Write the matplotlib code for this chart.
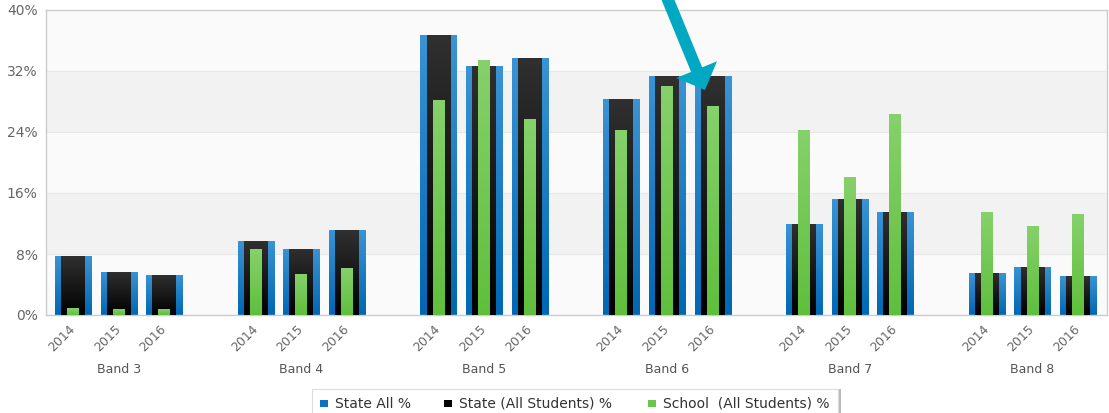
import numpy as np
import matplotlib
matplotlib.use('Agg')
import matplotlib.pyplot as plt
from matplotlib.colors import LinearSegmentedColormap
from matplotlib.patches import FancyArrow, Rectangle

# ==================== data ====================
bands = ['Band 3', 'Band 4', 'Band 5', 'Band 6', 'Band 7', 'Band 8']
years = ['2014', '2015', '2016']

# State All % (same figures as State (All Students) %)
state_all = [7.7, 5.7, 5.2,
             9.7, 8.7, 11.1,
             36.7, 32.6, 33.7,
             28.3, 31.4, 31.3,
             11.9, 15.2, 13.5,
             5.5, 6.3, 5.1]
state_students = list(state_all)
school = [0.9, 0.8, 0.8,
          8.6, 5.4, 6.1,
          28.2, 33.5, 25.7,
          24.3, 30.0, 27.4,
          24.3, 18.1, 26.4,
          13.5, 11.7, 13.3]

series_names = ['State All %', 'State (All Students) %', 'School  (All Students) %']
series_colors = ['#0a72c0', '#000000', '#6cc64b']

# ==================== figure ====================
W, H = 1109, 413
fig = plt.figure(figsize=(W / 100, H / 100), dpi=100)
ax = fig.add_axes([46 / W, 1 - 315 / H, (1107 - 46) / W, (315 - 10) / H])

# slot positions: 3 bars per band, one empty slot between bands
x = np.array([g * 4 + i for g in range(len(bands)) for i in range(len(years))], dtype=float)


def shade(bars, top, bottom):
    """paint a vertical gradient inside each bar"""
    cmap = LinearSegmentedColormap.from_list('g', [bottom, top])
    grad = np.linspace(0, 1, 128).reshape(-1, 1)
    for b in bars:
        x0, y0 = b.get_x(), b.get_y()
        w, h = b.get_width(), b.get_height()
        im = ax.imshow(grad, cmap=cmap, origin='lower', aspect='auto',
                       extent=[x0, x0 + w, y0, y0 + h], zorder=b.get_zorder(),
                       interpolation='bilinear')
        im.set_clip_path(b)


# background bands
ax.set_facecolor('#fafafa')
for lo in (8, 24):
    ax.axhspan(lo, lo + 8, color='#f2f2f2', zorder=0, lw=0)
for yv in (8, 16, 24, 32):
    ax.axhline(yv, color='#e8e8e8', lw=0.8, zorder=0.5)

b1 = ax.bar(x, state_all, width=0.79, color='#1f7cc4', zorder=2, lw=0)
b2 = ax.bar(x, state_students, width=0.525, color='#111111', zorder=3, lw=0)
b3 = ax.bar(x, school, width=0.26, color='#6cc64b', zorder=4, lw=0)
shade(b1, '#3a93d4', '#0067b3')
shade(b2, '#303030', '#000000')
shade(b3, '#86d16b', '#5fbf3c')

ax.set_xlim(-0.59, x[-1] + 0.63)
ax.set_ylim(0, 40)

# axes styling
for s in ax.spines.values():
    s.set_color('#cccccc')
    s.set_linewidth(1)
ax.set_yticks(np.arange(0, 41, 8))
ax.set_yticklabels([f'{v}%' for v in range(0, 41, 8)])
ax.tick_params(axis='y', length=0, pad=6, labelsize=10, labelcolor='#666666')
ax.set_xticks(x)
ax.set_xticklabels(years * len(bands), rotation=45, ha='right', va='center',
                   rotation_mode='anchor')
ax.tick_params(axis='x', length=0, pad=9, labelsize=9, labelcolor='#666666')

# band captions under each group
for g, name in enumerate(bands):
    ax.text(g * 4 + 1, -0.18, name, transform=ax.get_xaxis_transform(),
            ha='center', va='center', fontsize=9, color='#555555')

# legend box (runs off the bottom edge) with its three entries
fig.patches.append(Rectangle((312, -5), 526, 29, transform=None, fill=True,
                             facecolor='white', edgecolor='#dddddd', lw=0.8))
fig.patches.append(Rectangle((839, -5), 2, 29, transform=None,
                             facecolor='#bbbbbb', lw=0))
item_x = [320, 444, 648]
for px, name, col in zip(item_x, series_names, series_colors):
    fig.patches.append(Rectangle((px, H - 407), 7.5, 7.5, transform=None,
                                 facecolor=col, lw=0))
    fig.text((px + 15) / W, 1 - 403.5 / H, name, ha='left', va='center',
             fontsize=10, color='#333333')

# callout arrow pointing at Band 6 / 2016
arrow = FancyArrow(666, H + 5, 39, -95, width=12, head_width=44, head_length=22,
                   length_includes_head=True, color='#00a8c2', lw=0,
                   transform=None, zorder=10)
fig.patches.append(arrow)

fig.savefig('out.png', dpi=100)
